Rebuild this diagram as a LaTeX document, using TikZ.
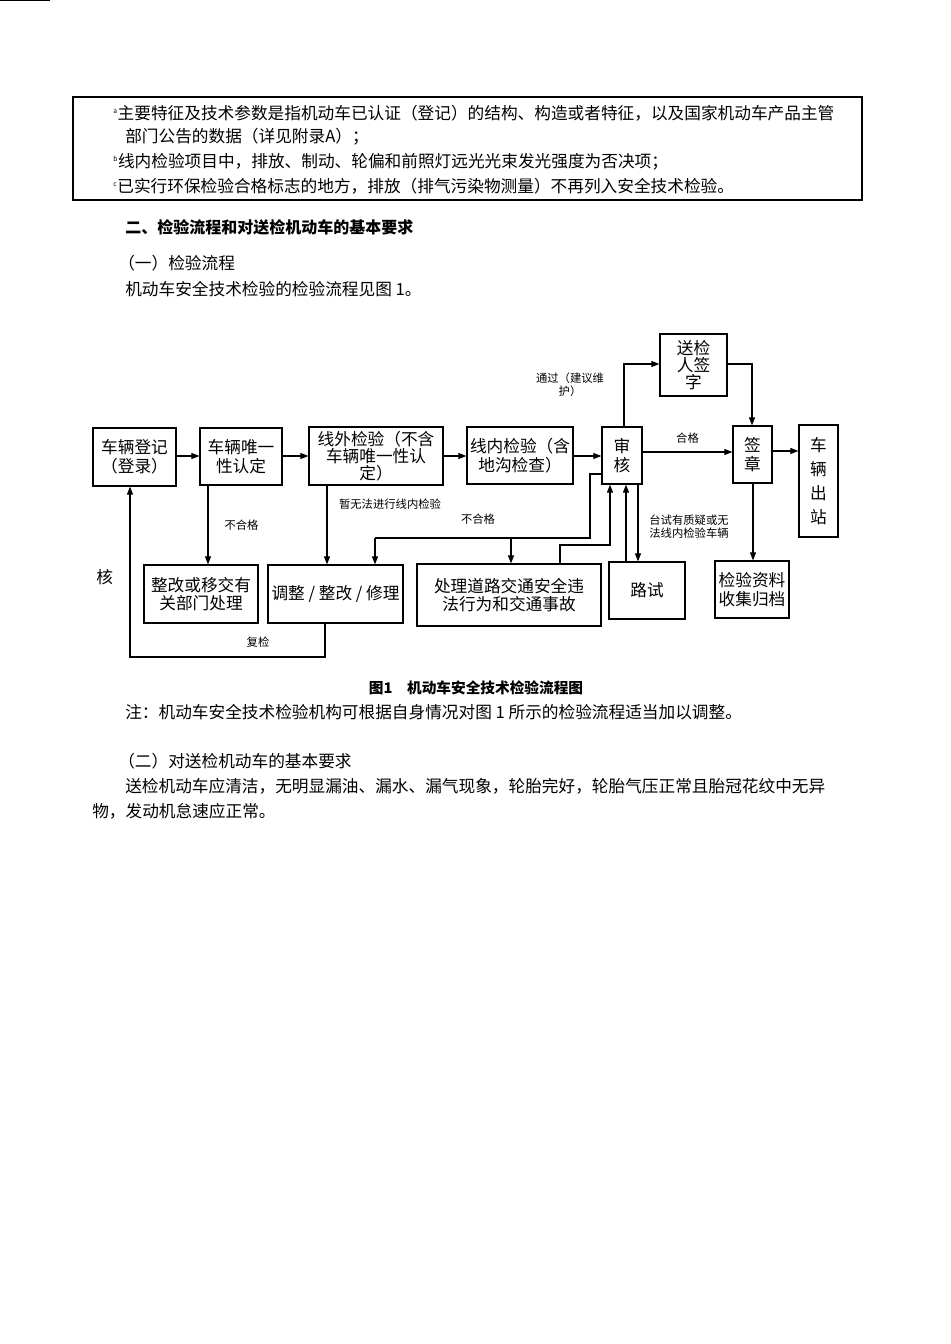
\documentclass[tikz,border=0pt]{standalone}
\usepackage{fontspec}
\setmainfont{Noto Sans CJK SC}
\usetikzlibrary{arrows.meta}
\begin{document}
\begin{tikzpicture}[x=0.75pt,y=-0.75pt,
  box/.style={draw,line width=0.9pt,inner sep=0pt,align=center,font=\fontsize{12.5pt}{14pt}\selectfont},
  arr/.style={-{Triangle[length=6pt,width=4.5pt]},line width=0.8pt},
  ln/.style={line width=0.8pt},
  lbl/.style={font=\fontsize{8.5pt}{10pt}\selectfont,inner sep=0pt,align=center},
  txt/.style={anchor=west,inner sep=0pt,font=\fontsize{12.5pt}{15pt}\selectfont}]
\useasboundingbox (0,0) rectangle (950,1344);
% top note box
\draw[line width=1pt] (73,97) rectangle (862,200);
\node[txt] (n1) at (113,113) {\textsuperscript{\tiny a}主要特征及技术参数是指机动车已认证（登记）的结构、构造或者特征，以及国家机动车产品主管};
\node[txt] (n2) at (125,137) {部门公告的数据（详见附录A）；};
\node[txt] (n3) at (113,162) {\textsuperscript{\tiny b}线内检验项目中，排放、制动、轮偏和前照灯远光光束发光强度为否决项；};
\node[txt] (n4) at (113,186) {\textsuperscript{\tiny c}已实行环保检验合格标志的地方，排放（排气污染物测量）不再列入安全技术检验。};
\node[txt,font=\fontsize{12pt}{14pt}\selectfont\bfseries] (h1) at (125,227) {二、检验流程和对送检机动车的基本要求};
\node[txt] (h2) at (118,263) {（一）检验流程};
\node[txt] (p1) at (125,289) {机动车安全技术检验的检验流程见图 1。};
% boxes
\node[box,minimum width=83\pgflinewidth] (b1) at (0,0) {};
\node[box] (dj) at (134.5,457) [minimum width=62.25pt,minimum height=43.5pt] {车辆登记\\（登录）};
\node[box] (wy) at (241,456.5) [minimum width=61.5pt,minimum height=42.75pt,anchor=center] {\raisebox{0pt}{车辆唯一}\\性认定};
\node[box,font=\fontsize{12.5pt}{13pt}\selectfont] (xw) at (376,456) [minimum width=100.5pt,minimum height=43.5pt] {线外检验（不含\\车辆唯一性认\\定）};
\node[box] (xn) at (520,455.5) [minimum width=79.5pt,minimum height=42.75pt] {线内检验（含\\地沟检查）};
\node[box] (sh) at (622,455.5) [minimum width=30pt,minimum height=42.75pt] {审\\核};
\node[box] (sj) at (693.5,365) [minimum width=50.25pt,minimum height=46.5pt,font=\fontsize{12.5pt}{13pt}\selectfont] {送检\\人签\\字};
\node[box] (qz) at (752.5,454.5) [minimum width=29.25pt,minimum height=42.75pt] {签\\章};
\node[box,font=\fontsize{12.5pt}{18pt}\selectfont] (cc) at (818.5,481) [minimum width=29.25pt,minimum height=84pt] {车\\辆\\出\\站};
\node[box] (zg) at (201,594) [minimum width=85.5pt,minimum height=43.5pt] {整改或移交有\\关部门处理};
\node[box] (tz) at (335.5,594) [minimum width=101.25pt,minimum height=43.5pt] {调整 / 整改 / 修理};
\node[box] (cl) at (509,595) [minimum width=138pt,minimum height=46.5pt] {处理道路交通安全违\\法行为和交通事故};
\node[box] (ls) at (647,590.5) [minimum width=57pt,minimum height=42.75pt] {路试};
\node[box] (zl) at (752,589.5) [minimum width=55.5pt,minimum height=42.75pt] {检验资料\\收集归档};
% connectors
\draw[arr] (dj.east |- 0,456) -- (wy.west |- 0,456);
\draw[arr] (wy.east |- 0,456) -- (xw.west |- 0,456);
\draw[arr] (xw.east |- 0,456) -- (xn.west |- 0,456);
\draw[arr] (xn.east |- 0,456) -- (sh.west |- 0,456);
\draw[arr] (sh.east |- 0,452) -- node[lbl,above=6pt]{合格} (qz.west |- 0,452);
\draw[arr] (sh.north -| 624,0) |- (sj.west |- 0,364);
\node[lbl] (tg) at (570,385) {通过（建议维\\护）};
\draw[arr] (sj.east |- 0,364) -| (qz.north -| 752,0);
\draw[arr] (qz.east |- 0,451) -- (cc.west |- 0,451);
\draw[arr] (qz.south -| 753,0) -- (zl.north -| 753,0);
\draw[arr] (wy.south -| 208,0) -- node[lbl,right=12pt,pos=0.5]{不合格} (zg.north -| 208,0);
\draw[arr] (xw.south -| 327,0) -- (tz.north -| 327,0);
\node[lbl] (zw) at (390,504) {暂无法进行线内检验};
\coordinate (c1) at (590,538);
\draw[ln] (sh.west |- 0,474) -| (c1) -- (375,538);
\draw[arr] (375,538) -- (tz.north -| 375,0);
\draw[arr] (511,538) -- (cl.north -| 511,0);
\node[lbl] (bh) at (478,519) {不合格};
\draw[arr] (cl.north -| 560,0) |- (610,545) -- (sh.south -| 610,0);
\draw[arr] (ls.north -| 626,0) -- (sh.south -| 626,0);
\draw[arr] (sh.south -| 638,0) -- (ls.north -| 638,0);
\node[lbl] (ts) at (689,527) {台试有质疑或无\\法线内检验车辆};
\draw[arr] (tz.south -| 325,0) |- (130,657) -- (dj.south -| 130,0);
\node[lbl] (fj) at (258,642) {复检};
\node[txt] (he) at (96,577) {核};
% caption and text
\node[inner sep=0pt,font=\fontsize{11pt}{13pt}\selectfont\bfseries] (cap) at (476,688) {图1\quad 机动车安全技术检验流程图};
\node[txt] (p2) at (125,712) {注：机动车安全技术检验机构可根据自身情况对图 1 所示的检验流程适当加以调整。};
\node[txt] (h3) at (118,761) {（二）对送检机动车的基本要求};
\node[txt] (p3) at (125,786) {送检机动车应清洁，无明显漏油、漏水、漏气现象，轮胎完好，轮胎气压正常且胎冠花纹中无异};
\node[txt] (p4) at (92,811) {物，发动机怠速应正常。};
\end{tikzpicture}
\end{document}
